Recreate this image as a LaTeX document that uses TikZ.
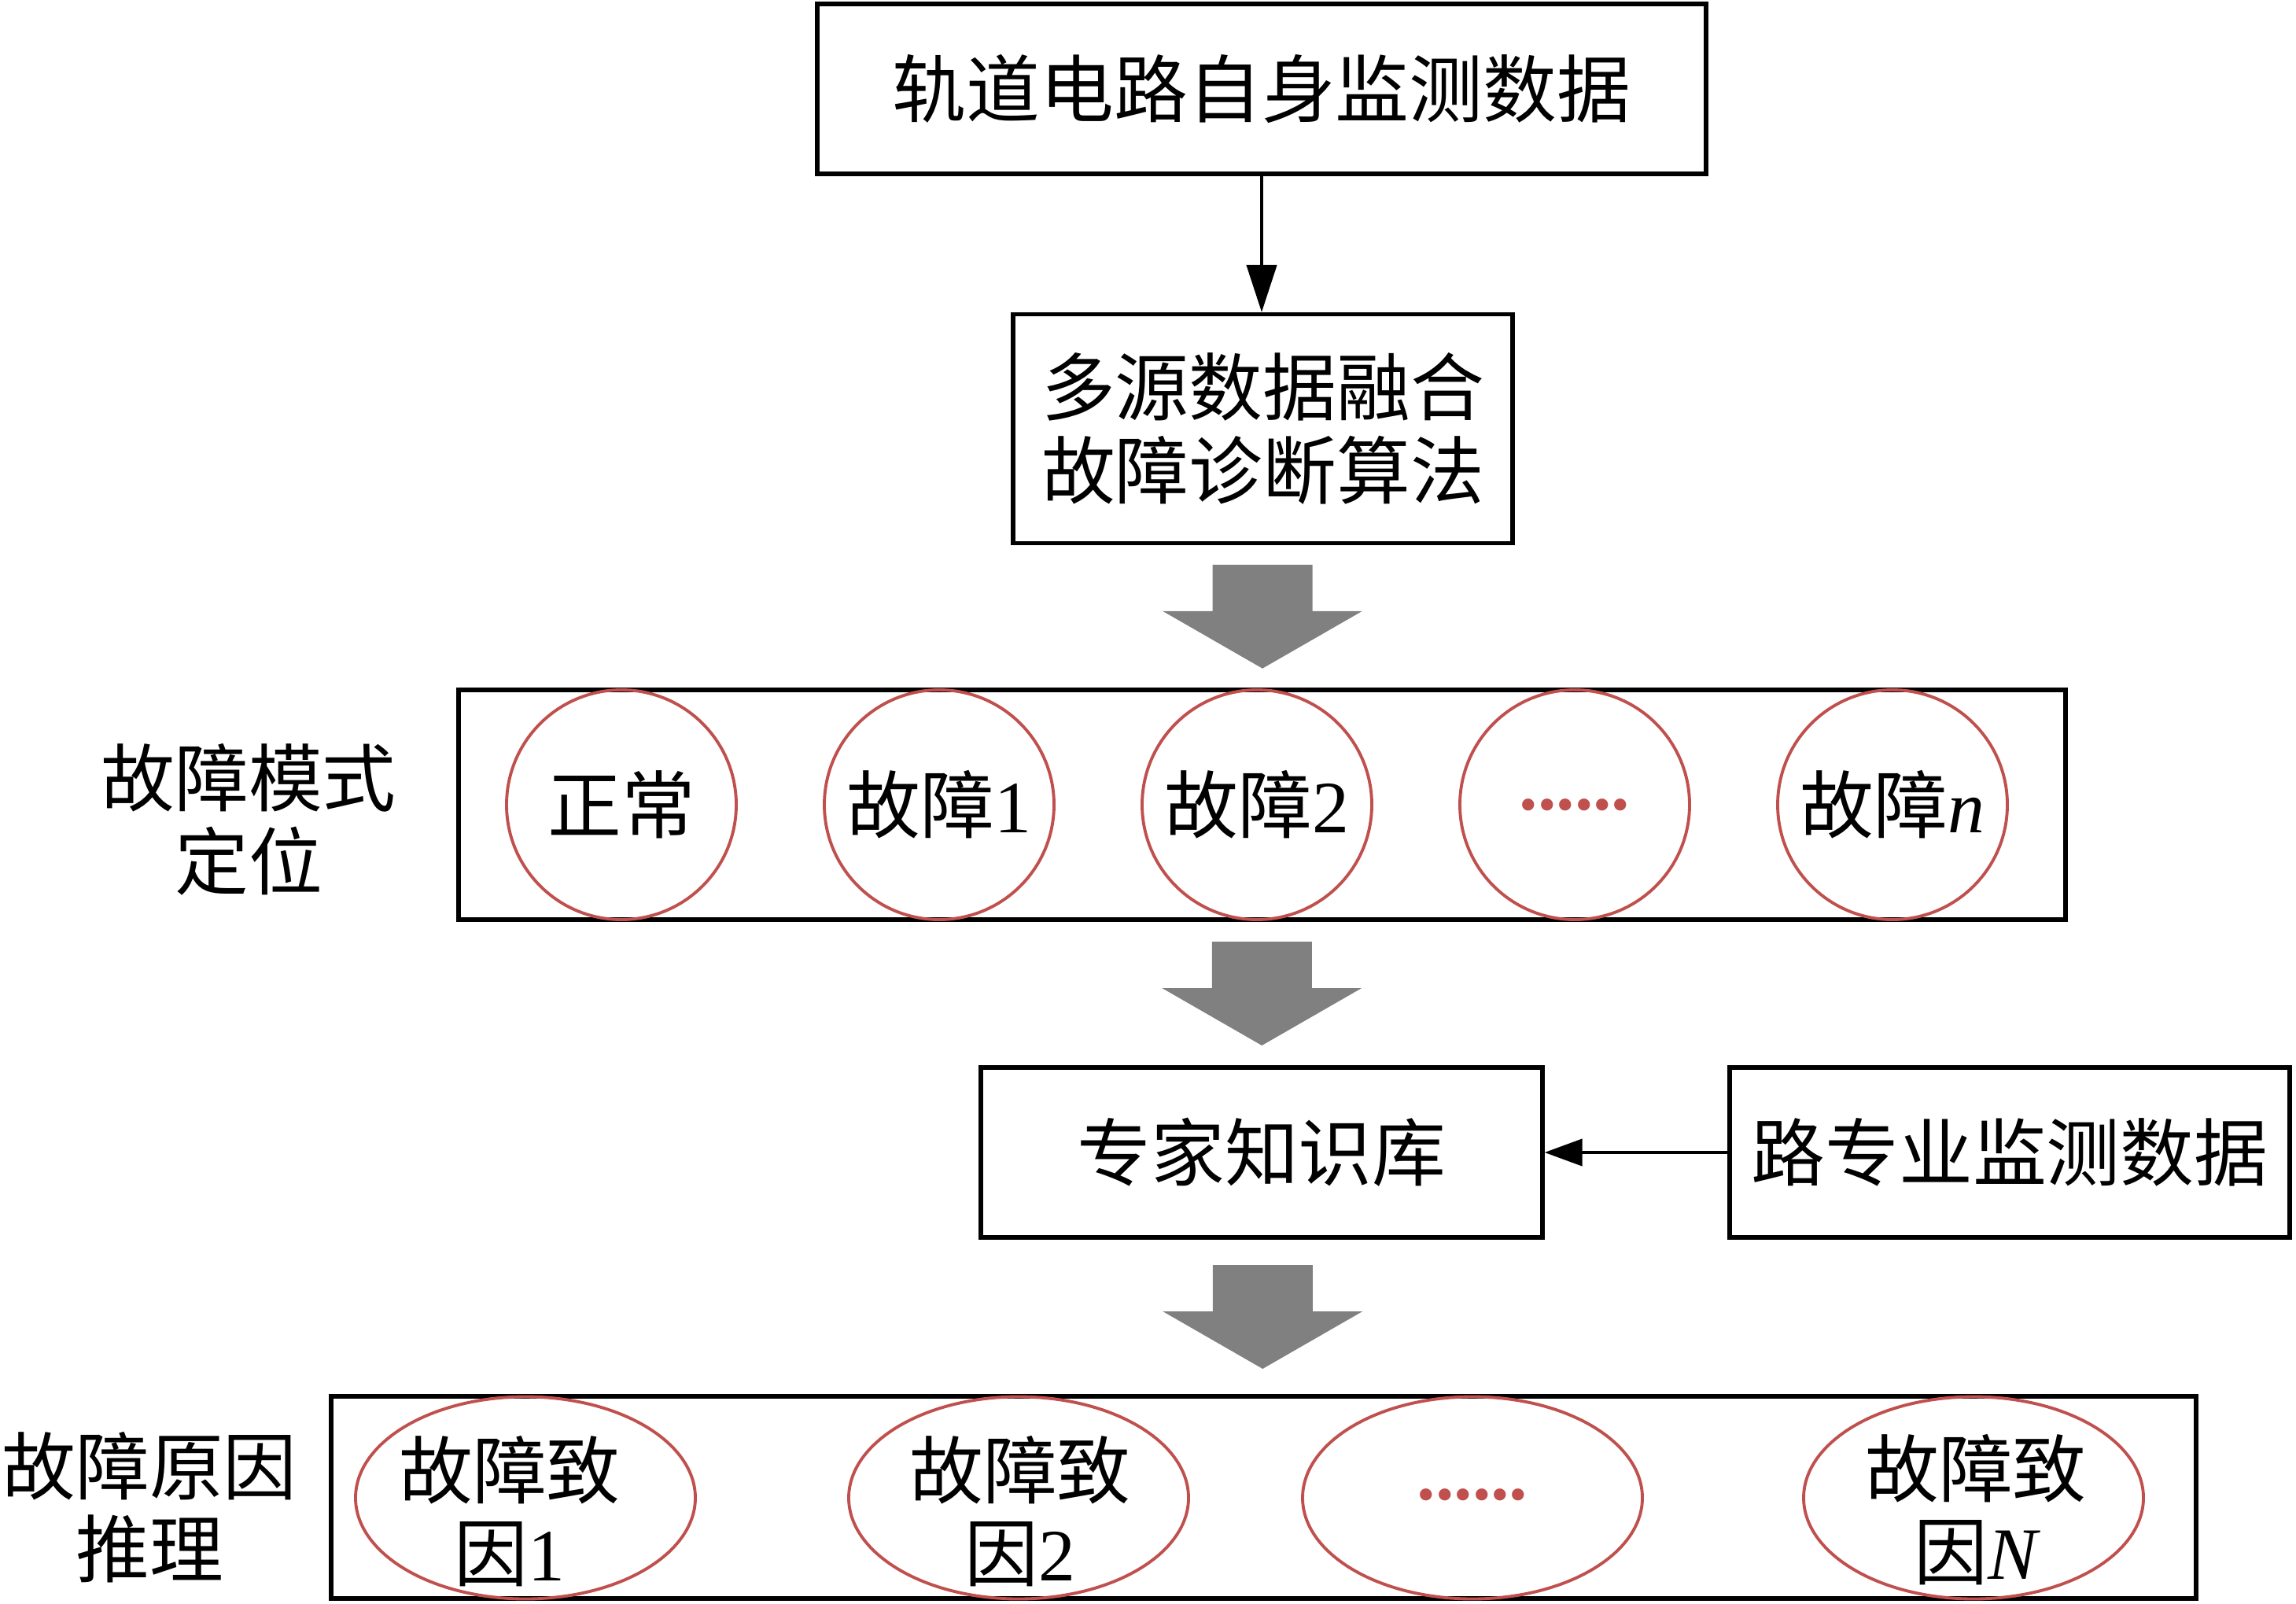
\documentclass[tikz,border=0pt]{standalone}
\usepackage{fontspec}
\setmainfont{Noto Sans CJK SC}
\newfontfamily\lat{Liberation Serif}
\usetikzlibrary{calc,arrows.meta,shapes.geometric}
\definecolor{ovalred}{RGB}{192,80,77}
\definecolor{bgray}{RGB}{128,128,128}
\newcommand\faultdots{{\color{ovalred}\lat\bfseries ......}}

\begin{document}
\begin{tikzpicture}[
  txt/.style={font=\fontsize{26.7}{30}\selectfont,align=center,inner sep=0pt},
  box/.style={txt,draw,line width=1.5pt},
  circ/.style={circle,draw=ovalred,line width=1.1pt,minimum size=2.92cm,inner sep=0pt},
  oval/.style={ellipse,draw=ovalred,line width=1.1pt,minimum width=4.32cm,minimum height=2.57cm,inner sep=0pt},
  link/.style={line width=1.2pt}]
\useasboundingbox (0,0) rectangle (29.19,-20.38);
\node[box,minimum width=11.30cm,minimum height=2.16cm] (src) at (16.04,-1.13) {轨道电路自身监测数据};
\node[box,minimum width=6.35cm,minimum height=2.91cm] (algo) at (16.055,-5.45) {多源数据融合\\故障诊断算法};
\draw[link,-{Triangle[length=0.6cm,width=0.38cm]}] (src.south) -- (src.south |- algo.north);
% fault modes
\node[box,minimum width=20.43cm,minimum height=2.92cm] (mode) at (16.045,-10.23) {};
\node[txt] (modelbl) at (3.16,-10.42) {故障模式\\定位};
\foreach \t [count=\i] in {正常,故障{\lat 1},故障{\lat 2},\faultdots,故障{\lat\itshape n}} {
  \node[circ] (m\i) at ({3.86+4.04*\i},-10.23) {};
  \node[txt] (m\i t) at (m\i) {\t};
}
\node[box,minimum width=7.14cm,minimum height=2.16cm] (expert) at (16.04,-14.65) {专家知识库};
\node[box,minimum width=7.12cm,minimum height=2.16cm] (rail) at (25.55,-14.65) {路专业监测数据};
\draw[link,-{Triangle[length=0.48cm,width=0.34cm]}] (rail.west) -- (expert.east);
% fault causes
\node[box,minimum width=23.71cm,minimum height=2.57cm] (cause) at (16.065,-19.035) {};
\node[txt] (causelbl) at (1.90,-19.16) {故障原因\\推理};
\foreach \x/\tx/\ty/\t [count=\i] in {6.68/6.48/-19.21/{故障致\\因{\lat 1}},12.95/12.97/-19.21/{故障致\\因{\lat 2}},
    18.72/18.72/-19.0/\faultdots,25.09/25.12/-19.19/{故障致\\因{\lat\itshape N}}} {
  \node[oval] (c\i) at (\x,-19.04) {};
  \node[txt] (c\i t) at (\tx,\ty) {\t};
}
% gray block arrows
\foreach \a/\b in {algo/mode,mode/expert,expert/cause}
  \fill[bgray] ($(\a.south)!0.5!(\b.north)$) +(-0.635,0.66) -- +(0.635,0.66) -- +(0.635,0.07) -- +(1.27,0.07)
    -- +(0,-0.66) -- +(-1.27,0.07) -- +(-0.635,0.07) -- cycle;
\end{tikzpicture}
\end{document}
